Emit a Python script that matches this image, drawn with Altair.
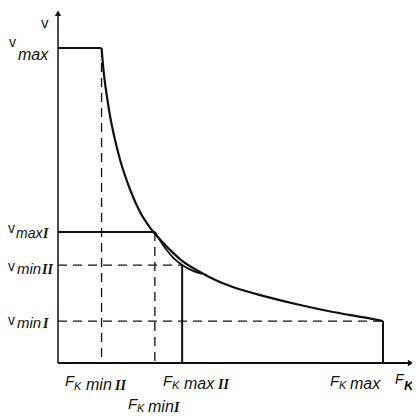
import altair as alt
import pandas as pd

# ---- values (arbitrary units: F 0..100, v 0..100) ----
v_max = 100.0
v_max_I = 41.6
v_min_II = 31.1
v_min_I = 13.3
F_min_II = 13.4
F_min_I = 29.8
F_max_II = 38.2
F_max = 100.0

# main traction curve (gear II top -> gear I end)
main_F = [13.4, 14.0, 15.0, 16.0, 17.5, 19.1, 22.2, 25.2, 28.3, 31.4, 34.5, 37.5,
          43.7, 48.3, 53.8, 64.3, 74.5, 84.6, 95.1, 100.0]
main_v = [100.0, 93.0, 85.0, 78.5, 71.0, 64.5, 55.0, 48.0, 43.0, 39.2, 35.9, 33.0,
          28.9, 26.4, 24.1, 21.0, 18.4, 16.2, 14.3, 13.3]

# second curve branching below the main one
b_F = [29.8, 32.9, 35.5, 38.2, 41.2, 44.3]
b_v = [41.6, 36.6, 33.4, 31.1, 29.4, 28.3]

axis_F_end = 108.5
axis_v_end = 111.0

# ---- scales: 3.25 px per F unit, 3.15 px per v unit ----
W, H = 404, 411
x_dom = [-50 / 3.25, -50 / 3.25 + W / 3.25]
y_top = (363 - 8) / 3.15
y_dom = [y_top - H / 3.15, y_top]
xs = alt.Scale(domain=x_dom, nice=False, zero=False)
ys = alt.Scale(domain=y_dom, nice=False, zero=False)
X = lambda f="F": alt.X(f, type="quantitative", scale=xs, axis=None)
Y = lambda f="v": alt.Y(f, type="quantitative", scale=ys, axis=None)

INK = "#111111"

main_df = pd.DataFrame({"F": main_F, "v": main_v})
b_df = pd.DataFrame({"F": b_F, "v": b_v})

solid_segs = pd.DataFrame({
    "F": [0, F_max, 0, F_max_II, 0],
    "F2": [axis_F_end, F_max, F_min_II, F_max_II, F_min_I],
    "v": [0, v_min_I, v_max, v_min_II, v_max_I],
    "v2": [0, 0, v_max, 0, v_max_I],
})
axis_y = pd.DataFrame({"F": [0], "F2": [0], "v": [0], "v2": [axis_v_end]})
dash_segs = pd.DataFrame({
    "F": [F_min_II, F_min_I, 0, 0],
    "F2": [F_min_II, F_min_I, F_max_II, F_max],
    "v": [v_max, v_max_I, v_min_II, v_min_I],
    "v2": [0, 0, v_min_II, v_min_I],
})

solid = alt.Chart(solid_segs).mark_rule(color=INK, strokeWidth=2).encode(
    x=X(), x2="F2", y=Y(), y2="v2")
yaxis = alt.Chart(axis_y).mark_rule(color=INK, strokeWidth=1.5).encode(
    x=X(), x2="F2", y=Y(), y2="v2")
dashed = alt.Chart(dash_segs).mark_rule(color=INK, strokeWidth=1.3, strokeDash=[9, 6]).encode(
    x=X(), x2="F2", y=Y(), y2="v2")
main_line = alt.Chart(main_df).mark_line(color=INK, strokeWidth=2.2, interpolate="monotone").encode(
    x=X(), y=Y(), order="F:Q")
b_line = alt.Chart(b_df).mark_line(color=INK, strokeWidth=1.8, interpolate="monotone").encode(
    x=X(), y=Y(), order="F:Q")

arrows = alt.Chart(pd.DataFrame({
    "F": [axis_F_end, 0], "v": [0, axis_v_end], "s": ["triangle-right", "triangle-up"]
})).mark_point(filled=True, color=INK, size=40, opacity=1).encode(
    x=X(), y=Y(), shape=alt.Shape("s:N", scale=None, legend=None))

SANS = "Liberation Sans"
SERIF = "Liberation Serif"


def txt(s, px, py, size, italic=True, font=SANS, bold=False):
    return alt.Chart(pd.DataFrame({"t": [s]})).mark_text(
        align="left", baseline="alphabetic", font=font, fontSize=size,
        fontStyle="italic" if italic else "normal",
        fontWeight="bold" if bold else "normal", color=INK,
    ).encode(x=alt.value(px - 8), y=alt.value(py - 8), text="t:N")


labels = [
    txt("v", 41, 28, 15, italic=False),
    # v max
    txt("v", 9, 47, 14, italic=False), txt("max", 18, 60, 16),
    # v max I
    txt("v", 8, 233, 14, italic=False), txt("max", 16, 238, 14), txt("I", 43, 238, 14, font=SERIF, bold=True),
    # v min II
    txt("v", 8, 271, 14, italic=False), txt("min", 17, 274, 15), txt("II", 42, 274, 14, font=SERIF, bold=True),
    # v min I
    txt("v", 8, 325, 14, italic=False), txt("min", 17, 328, 15), txt("I", 43, 328, 14, font=SERIF, bold=True),
    # F_K min II
    txt("F", 65, 386, 15), txt("K", 74, 390, 11), txt("min", 86, 390, 16), txt("II", 115, 390, 14, font=SERIF, bold=True),
    # F_K max II
    txt("F", 163, 386, 15), txt("K", 172, 389, 11), txt("max", 184, 389, 16), txt("II", 218, 389, 14, font=SERIF, bold=True),
    # F_K min I
    txt("F", 128, 409, 15), txt("K", 137, 412, 11), txt("min", 148, 412, 16), txt("I", 174, 412, 14, font=SERIF, bold=True),
    # F_K max
    txt("F", 330, 386, 15), txt("K", 339, 389, 11), txt("max", 350, 389, 16),
    # F_K axis title
    txt("F", 395, 384, 14), txt("K", 404, 390, 13, bold=True),
]

chart = alt.layer(dashed, solid, yaxis, main_line, b_line, arrows, *labels).properties(
    width=W, height=H, padding=0, autosize="none", background="white"
).configure_view(stroke=None)

chart.save("out.html", embed_options={"renderer": "svg", "actions": False})
